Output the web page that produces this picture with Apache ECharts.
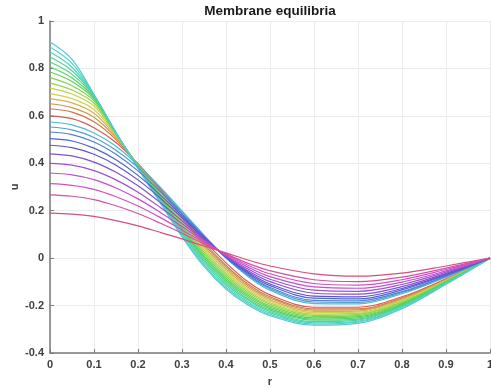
<!DOCTYPE html>
<html>
<head>
<meta charset="utf-8">
<title>Membrane equilibria</title>
<script src="https://cdn.jsdelivr.net/npm/echarts@6/dist/echarts.min.js"></script>
<style>
  html, body { margin: 0; padding: 0; background: #fff; }
  #chart { width: 491px; height: 388px; }
</style>
</head>
<body>
<div id="chart"></div>
<script>
// radial positions where each equilibrium profile is sampled
const r = [0, 0.05, 0.1, 0.15, 0.2, 0.25, 0.3, 0.35, 0.4, 0.45, 0.5, 0.6, 0.7, 0.8, 0.9, 1];

// lower family of equilibria (small central deflection)
const low1  = [0.190, 0.186, 0.176, 0.158, 0.136, 0.109, 0.081, 0.051, 0.022, -0.008, -0.033, -0.066, -0.076, -0.063, -0.033, 0];
const low2  = [0.267, 0.261, 0.247, 0.221, 0.188, 0.148, 0.105, 0.060, 0.018, -0.022, -0.053, -0.091, -0.099, -0.080, -0.042, 0];
const low3  = [0.314, 0.307, 0.290, 0.259, 0.220, 0.172, 0.119, 0.066, 0.015, -0.030, -0.066, -0.107, -0.114, -0.091, -0.048, 0];
const low4  = [0.359, 0.351, 0.331, 0.296, 0.250, 0.194, 0.133, 0.071, 0.012, -0.038, -0.078, -0.121, -0.127, -0.101, -0.054, 0];
const low5  = [0.400, 0.392, 0.369, 0.330, 0.278, 0.215, 0.146, 0.076, 0.010, -0.046, -0.089, -0.135, -0.140, -0.111, -0.059, 0];
const low6  = [0.440, 0.431, 0.405, 0.362, 0.305, 0.235, 0.158, 0.081, 0.008, -0.053, -0.099, -0.148, -0.152, -0.120, -0.064, 0];
const low7  = [0.476, 0.466, 0.438, 0.392, 0.330, 0.254, 0.170, 0.085, 0.006, -0.059, -0.109, -0.160, -0.163, -0.128, -0.068, 0];
const low8  = [0.504, 0.494, 0.464, 0.415, 0.349, 0.268, 0.178, 0.089, 0.004, -0.064, -0.116, -0.169, -0.172, -0.134, -0.071, 0];
const low9  = [0.532, 0.521, 0.490, 0.438, 0.368, 0.282, 0.187, 0.092, 0.002, -0.069, -0.124, -0.178, -0.180, -0.141, -0.075, 0];
const low10 = [0.553, 0.541, 0.509, 0.455, 0.382, 0.292, 0.193, 0.094, 0.001, -0.073, -0.129, -0.185, -0.187, -0.145, -0.077, 0];
const low11 = [0.574, 0.562, 0.528, 0.472, 0.393, 0.300, 0.199, 0.097, 0.000, -0.077, -0.135, -0.192, -0.193, -0.150, -0.080, 0];

// upper family of equilibria (large central deflection)
const high1  = [0.600, 0.588, 0.550, 0.488, 0.398, 0.295, 0.185, 0.075, -0.020, -0.100, -0.155, -0.207, -0.207, -0.163, -0.087, 0];
const high2  = [0.630, 0.616, 0.575, 0.500, 0.396, 0.289, 0.176, 0.064, -0.031, -0.109, -0.163, -0.214, -0.214, -0.168, -0.089, 0];
const high3  = [0.651, 0.635, 0.594, 0.508, 0.395, 0.285, 0.169, 0.057, -0.038, -0.116, -0.169, -0.219, -0.218, -0.171, -0.091, 0];
const high4  = [0.673, 0.655, 0.611, 0.514, 0.393, 0.281, 0.163, 0.049, -0.046, -0.123, -0.176, -0.225, -0.223, -0.175, -0.092, 0];
const high5  = [0.694, 0.673, 0.627, 0.518, 0.392, 0.277, 0.156, 0.042, -0.053, -0.130, -0.182, -0.230, -0.228, -0.178, -0.094, 0];
const high6  = [0.717, 0.692, 0.641, 0.521, 0.390, 0.272, 0.149, 0.034, -0.061, -0.137, -0.188, -0.236, -0.233, -0.182, -0.096, 0];
const high7  = [0.738, 0.709, 0.653, 0.523, 0.389, 0.268, 0.143, 0.026, -0.069, -0.144, -0.194, -0.241, -0.237, -0.185, -0.097, 0];
const high8  = [0.761, 0.727, 0.663, 0.525, 0.388, 0.264, 0.136, 0.018, -0.077, -0.151, -0.201, -0.246, -0.242, -0.189, -0.099, 0];
const high9  = [0.785, 0.745, 0.671, 0.526, 0.386, 0.259, 0.128, 0.010, -0.085, -0.158, -0.207, -0.252, -0.247, -0.193, -0.101, 0];
const high10 = [0.806, 0.760, 0.677, 0.527, 0.385, 0.255, 0.122, 0.002, -0.093, -0.165, -0.213, -0.257, -0.252, -0.196, -0.102, 0];
const high11 = [0.827, 0.775, 0.681, 0.528, 0.383, 0.251, 0.116, -0.005, -0.100, -0.172, -0.219, -0.262, -0.257, -0.200, -0.104, 0];
const high12 = [0.848, 0.790, 0.684, 0.529, 0.382, 0.247, 0.109, -0.013, -0.108, -0.178, -0.225, -0.268, -0.261, -0.203, -0.105, 0];
const high13 = [0.869, 0.805, 0.687, 0.529, 0.381, 0.243, 0.103, -0.020, -0.115, -0.185, -0.231, -0.273, -0.266, -0.206, -0.107, 0];
const high14 = [0.890, 0.821, 0.689, 0.530, 0.379, 0.239, 0.096, -0.028, -0.123, -0.191, -0.237, -0.278, -0.270, -0.210, -0.108, 0];
const high15 = [0.911, 0.838, 0.690, 0.530, 0.378, 0.235, 0.090, -0.035, -0.130, -0.198, -0.243, -0.283, -0.275, -0.213, -0.110, 0];

// axis ticks
const xTicks = [0, 0.1, 0.2, 0.3, 0.4, 0.5, 0.6, 0.7, 0.8, 0.9, 1];
const yTicks = [-0.4, -0.2, 0, 0.2, 0.4, 0.6, 0.8, 1];

// profiles in continuation order: upper family rising, then lower family falling
const profiles = [high1, high2, high3, high4, high5, high6, high7, high8, high9, high10,
                  high11, high12, high13, high14, high15,
                  low11, low10, low9, low8, low7, low6, low5, low4, low3, low2, low1];

// one hue per profile, cycling round the colour wheel
const hues = [5, 18, 31, 45, 58, 72, 86, 100, 114, 128, 142, 155, 166, 176, 184,
              192, 204, 218, 232, 247, 262, 277, 292, 307, 322, 338];

function profileSeries(values, hue) {
  return {
    type: 'line',
    data: r.map((x, i) => [x, values[i]]),
    showSymbol: false,
    smooth: 0.35,
    silent: true,
    lineStyle: { width: 1.2, color: 'hsl(' + hue + ', 60%, 57%)' }
  };
}

const series = profiles.map((v, i) => profileSeries(v, hues[i]));

const tickFont = { fontFamily: 'Liberation Sans', fontSize: 11, fontWeight: 'bold', color: '#404040' };

const chart = echarts.init(document.getElementById('chart'), null, { renderer: 'canvas' });
chart.setOption({
  animation: false,
  backgroundColor: '#ffffff',
  graphic: [{
    type: 'text',
    x: 270,
    y: 11,
    silent: true,
    style: {
      text: 'Membrane equilibria',
      font: 'bold 13.5px "Liberation Sans"',
      fill: '#1a1a1a',
      textAlign: 'center',
      textVerticalAlign: 'middle'
    }
  }],
  grid: { left: 50, right: 1, top: 21, bottom: 35, containLabel: false, outerBoundsMode: 'none' },
  xAxis: {
    type: 'value',
    min: xTicks[0],
    max: xTicks[xTicks.length - 1],
    interval: 0.1,
    name: 'r',
    nameLocation: 'middle',
    nameGap: 23,
    nameMoveOverlap: false,
    nameTextStyle: tickFont,
    axisLine: { show: true, onZero: false, lineStyle: { color: '#7a7a7a', width: 1.5 } },
    axisTick: { show: true, inside: true, length: 4, lineStyle: { color: '#7a7a7a' } },
    axisLabel: Object.assign({ margin: 6 }, tickFont),
    splitLine: { show: true, lineStyle: { color: '#ebebeb', width: 1 } }
  },
  yAxis: {
    type: 'value',
    min: yTicks[0],
    max: yTicks[yTicks.length - 1],
    interval: 0.2,
    name: 'u',
    nameLocation: 'middle',
    nameGap: 30,
    nameMoveOverlap: false,
    nameTextStyle: tickFont,
    axisLine: { show: true, onZero: false, lineStyle: { color: '#7a7a7a', width: 1.5 } },
    axisTick: { show: true, inside: true, length: 4, lineStyle: { color: '#7a7a7a' } },
    axisLabel: Object.assign({ margin: 6 }, tickFont),
    splitLine: { show: true, lineStyle: { color: '#ebebeb', width: 1 } }
  },
  series: series
});
</script>
</body>
</html>
